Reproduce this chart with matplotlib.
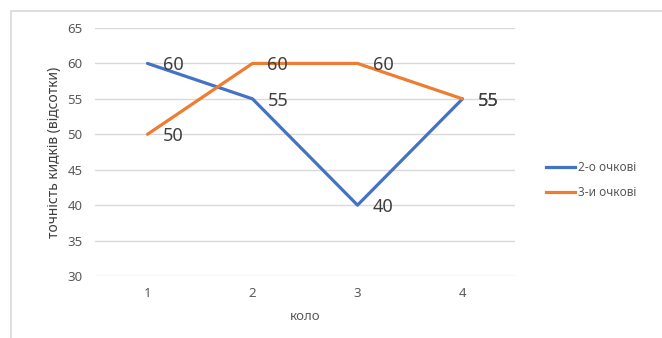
import matplotlib
matplotlib.use("Agg")
import matplotlib.pyplot as plt
from matplotlib.patches import Rectangle
from matplotlib.lines import Line2D

plt.rcParams['font.family'] = ['Noto Sans', 'DejaVu Sans']

rounds = [1, 2, 3, 4]
two_pointers = [60, 55, 40, 55]
three_pointers = [50, 60, 60, 55]
y_ticks = [30, 35, 40, 45, 50, 55, 60, 65]
series_names = ["2-о очкові", "3-и очкові"]
x_label = "коло"
y_label = "точність кидків (відсотки)"

blue = "#4472C4"
orange = "#ED7D31"
tick_color = "#595959"
label_color = "#404040"
grid_color = "#D9D9D9"

fig = plt.figure(figsize=(6.62, 3.38), dpi=100)
fig.patch.set_facecolor("white")

# chart area border (left and top edges visible)
fig.add_artist(Rectangle((11 / 662, -0.1), 1.2, 1 - 11 / 338 + 0.1,
                         transform=fig.transFigure, fill=False,
                         edgecolor=grid_color, linewidth=1.2))

ax = fig.add_axes([95 / 662, 1 - 276 / 338, 420 / 662, 248 / 338])
ax.set_xlim(0.5, 4.5)
ax.set_ylim(30, 65)
ax.set_yticks(y_ticks)
ax.set_xticks(rounds)
ax.grid(axis="y", color=grid_color, linewidth=1)
ax.set_axisbelow(True)
for s in ax.spines.values():
    s.set_visible(False)
ax.tick_params(axis="both", length=0, colors=tick_color, labelsize=9.5)
ax.tick_params(axis="y", pad=9)
ax.tick_params(axis="x", pad=8)

ax.plot(rounds, two_pointers, color=blue, linewidth=2.3, solid_capstyle="round")
ax.plot(rounds, three_pointers, color=orange, linewidth=2.3, solid_capstyle="round")

for xs, ys in ((rounds, two_pointers), (rounds, three_pointers)):
    for x, y in zip(xs, ys):
        ax.annotate(str(y), (x, y), xytext=(15, -2), textcoords="offset pixels",
                    ha="left", va="center", fontsize=13, color=label_color)

ax.set_xlabel(x_label, color=tick_color, fontsize=9.5, labelpad=7)
ax.set_ylabel(y_label, color=label_color, fontsize=10, labelpad=4)

handles = [Line2D([], [], color=blue, linewidth=2.3),
           Line2D([], [], color=orange, linewidth=2.3)]
leg = fig.legend(handles, series_names, loc="center left",
                 bbox_to_anchor=(535 / 662, 1 - 180 / 338), frameon=False,
                 fontsize=8.5, handlelength=2.5, handletextpad=0.2,
                 labelspacing=1.0, labelcolor=tick_color)

fig.savefig("out.png", dpi=100)
